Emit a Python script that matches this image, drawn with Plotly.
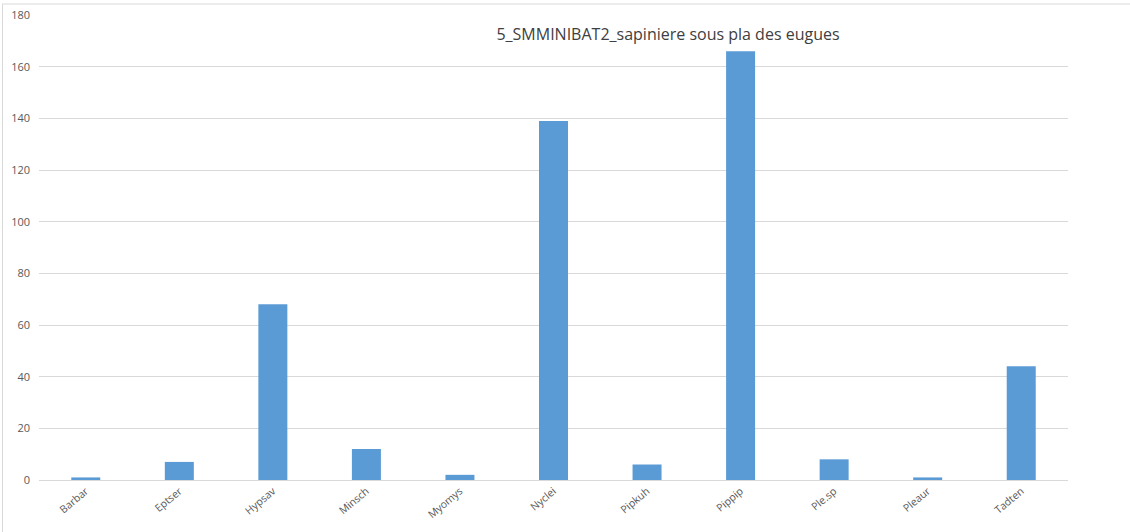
import plotly.graph_objects as go

categories = ["Barbar", "Eptser", "Hypsav", "Minsch", "Myomys", "Nyclei",
              "Pipkuh", "Pippip", "Ple.sp", "Pleaur", "Tadten"]
values = [1, 7, 68, 12, 2, 139, 6, 166, 8, 1, 44]
y_ticks = [0, 20, 40, 60, 80, 100, 120, 140, 160, 180]
title_text = "5_SMMINIBAT2_sapiniere sous pla des eugues"

W, H = 1130, 532
L, R, T, B = 39, 62, 15, 52
pw = W - L - R
ph = H - T - B

fig = go.Figure(go.Bar(
    x=categories, y=values,
    marker=dict(color="#5B9BD5", line=dict(width=0)),
))

def px_x(p):
    return (p - L) / pw

def px_y(p):
    return (H - B - p) / ph

fig.update_layout(
    width=W, height=H,
    margin=dict(l=L, r=R, t=T, b=B, autoexpand=False),
    paper_bgcolor="white", plot_bgcolor="white",
    bargap=0.69,
    showlegend=False,
    font=dict(family="Open Sans, Liberation Sans, sans-serif", color="#595959"),
    title=dict(text=title_text, x=668 / W, xanchor="center", xref="container",
               y=1 - 34 / H, yanchor="middle", yref="container",
               font=dict(size=16, color="#404040", family="Open Sans, sans-serif")),
    xaxis=dict(tickangle=-40, tickfont=dict(size=10.5, color="#595959"),
               showline=True, linecolor="#d9d9d9", linewidth=1,
               showgrid=False, ticks=""),
    yaxis=dict(range=[0, 180], tickvals=y_ticks, tickfont=dict(size=11, color="#595959"),
               showgrid=True, gridcolor="#d9d9d9", gridwidth=1,
               zeroline=False, showline=False, ticks="", ticklabelstandoff=8),
    shapes=[
        dict(type="line", xref="paper", yref="paper",
             x0=px_x(2), x1=px_x(W + 5), y0=px_y(4), y1=px_y(4),
             line=dict(color="#d9d9d9", width=1)),
        dict(type="line", xref="paper", yref="paper",
             x0=px_x(2.5), x1=px_x(2.5), y0=px_y(4), y1=px_y(H + 5),
             line=dict(color="#d9d9d9", width=1)),
    ],
)

fig.write_html("out.html",
               config={"displayModeBar": False},
               post_script="document.body.style.margin='0';document.body.style.overflow='hidden';")
